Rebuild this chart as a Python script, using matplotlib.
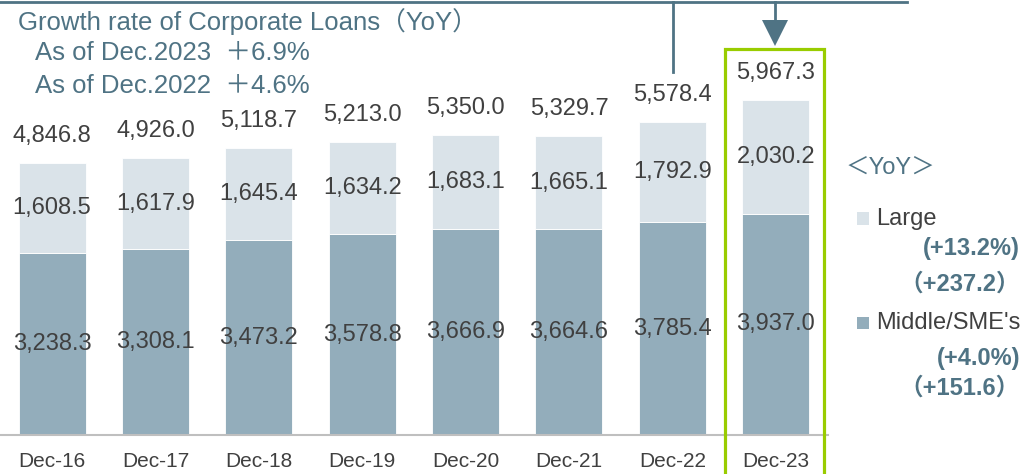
import matplotlib
matplotlib.use("Agg")
import matplotlib.pyplot as plt
from matplotlib.patches import Rectangle, Polygon
from matplotlib.lines import Line2D

plt.rcParams['font.family'] = ['Liberation Sans', 'Noto Sans CJK JP']

# data
years = ['Dec-16', 'Dec-17', 'Dec-18', 'Dec-19', 'Dec-20', 'Dec-21', 'Dec-22', 'Dec-23']
middle = [3238.3, 3308.1, 3473.2, 3578.8, 3666.9, 3664.6, 3785.4, 3937.0]
large = [1608.5, 1617.9, 1645.4, 1634.2, 1683.1, 1665.1, 1792.9, 2030.2]
totals = [4846.8, 4926.0, 5118.7, 5213.0, 5350.0, 5329.7, 5578.4, 5967.3]
title_lines = ['Growth rate of Corporate Loans（YoY）',
               'As of Dec.2023  ＋6.9%',
               'As of Dec.2022  ＋4.6%']
large_yoy = ['(+13.2%)', '（+237.2）']
middle_yoy = ['(+4.0%)', '（+151.6）']

c_light = '#dae3e9'
c_dark = '#93adbb'
c_slate = '#4f7384'
c_text = '#404040'
c_green = '#99cc00'

W, H = 1025, 474
fig = plt.figure(figsize=(W / 100, H / 100), dpi=100)
ax = fig.add_axes([0, 39 / H, 828 / W, 435 / H])

x = range(len(years))
ax.bar(x, middle, width=0.648, color=c_dark, edgecolor='white', linewidth=0.6)
ax.bar(x, large, bottom=middle, width=0.648, color=c_light, edgecolor='white', linewidth=0.6)

ymax = 7748
ax.set_xlim(-0.503, 7.505)
ax.set_ylim(0, ymax)
off = 27 / 435 * ymax

for i in x:
    ax.text(i, middle[i] / 2, f'{middle[i]:,.1f}', ha='center', va='center', fontsize=17, color=c_text)
    ax.text(i, middle[i] + large[i] / 2, f'{large[i]:,.1f}', ha='center', va='center', fontsize=17, color=c_text)
    ax.text(i, totals[i] + off, f'{totals[i]:,.1f}', ha='center', va='center', fontsize=17, color=c_text)

for s in ['top', 'right', 'left']:
    ax.spines[s].set_visible(False)
ax.spines['bottom'].set_color('#bfbfbf')
ax.spines['bottom'].set_linewidth(1.5)
ax.set_yticks([])
ax.set_xticks(list(x))
ax.set_xticklabels(years, fontsize=15, color=c_text)
ax.tick_params(axis='x', length=0, pad=12)

# title block
def fy(py):
    return 1 - py / H

fig.text(18 / W, fy(22), title_lines[0], fontsize=18.5, color=c_slate, va='center', ha='left')
fig.text(35 / W, fy(53), title_lines[1], fontsize=18.5, color=c_slate, va='center', ha='left')
fig.text(35 / W, fy(86), title_lines[2], fontsize=18.5, color=c_slate, va='center', ha='left')

# connector lines and arrow
lw = 2.0
fig.add_artist(Line2D([0, 907 / W], [fy(1.5), fy(1.5)], color=c_slate, lw=lw, transform=fig.transFigure))
fig.add_artist(Line2D([673 / W, 673 / W], [fy(1.5), fy(72)], color=c_slate, lw=lw, transform=fig.transFigure))
fig.add_artist(Line2D([775 / W, 775 / W], [fy(1.5), fy(22)], color=c_slate, lw=lw, transform=fig.transFigure))
fig.add_artist(Polygon([[762 / W, fy(20)], [788 / W, fy(20)], [775 / W, fy(46)]], closed=True,
                       facecolor=c_slate, edgecolor='none', transform=fig.transFigure))

# highlight box around Dec-23
fig.add_artist(Rectangle((724.5 / W, fy(480)), 99 / W, (480 - 48.5) / H, fill=False,
                         edgecolor=c_green, linewidth=2.3, transform=fig.transFigure))

# legend block
fig.text(846 / W, fy(168), '＜YoY＞', fontsize=17, color=c_slate, va='center', ha='left')
fig.add_artist(Rectangle((857 / W, fy(225)), 12 / W, 13 / H, facecolor=c_light, edgecolor='none',
                         transform=fig.transFigure))
fig.text(876 / W, fy(219), 'Large', fontsize=17, color=c_text, va='center', ha='left')
fig.text(1020 / W, fy(249), large_yoy[0], fontsize=17, color=c_slate, va='center', ha='right', fontweight='bold')
fig.text(1020 / W, fy(284), large_yoy[1], fontsize=17, color=c_slate, va='center', ha='right', fontweight='bold')
fig.add_artist(Rectangle((857 / W, fy(329)), 12 / W, 12 / H, facecolor=c_dark, edgecolor='none',
                         transform=fig.transFigure))
fig.text(876 / W, fy(323), "Middle/SME's", fontsize=17, color=c_text, va='center', ha='left')
fig.text(1020 / W, fy(358), middle_yoy[0], fontsize=17, color=c_slate, va='center', ha='right', fontweight='bold')
fig.text(1020 / W, fy(388), middle_yoy[1], fontsize=17, color=c_slate, va='center', ha='right', fontweight='bold')

fig.savefig('out.png', dpi=100)
